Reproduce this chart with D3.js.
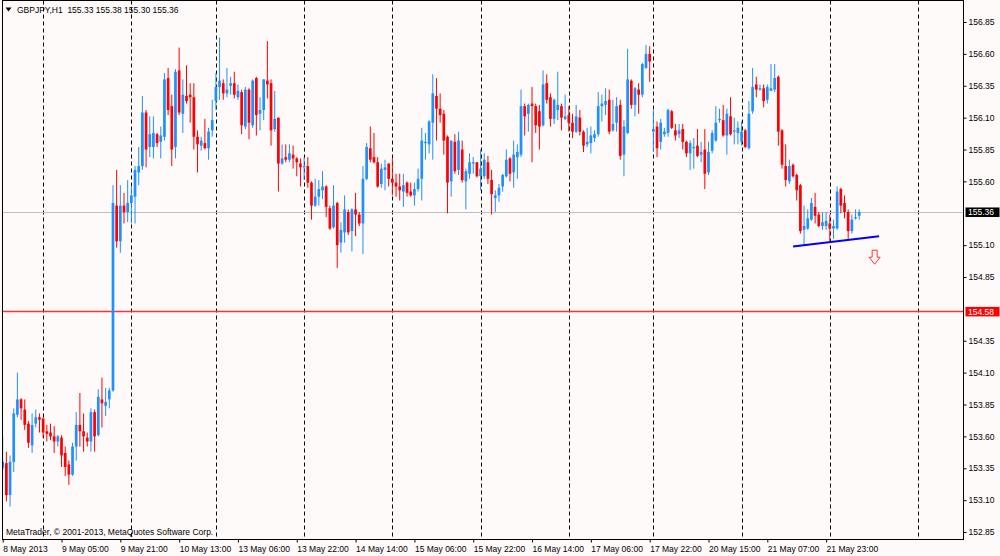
<!DOCTYPE html>
<html><head><meta charset="utf-8">
<script src="https://cdn.jsdelivr.net/npm/d3@7/dist/d3.min.js"></script>
<style>
html,body{margin:0;padding:0;background:#fffafa;}
svg{display:block;}
text{font-family:"Liberation Sans",Arial,sans-serif;}
</style></head>
<body>
<svg id="chart" width="1000" height="556"></svg>
<script>
// ---- data (GBPJPY H1) ----
const open = [
153.35,153.39,153.14,153.40,153.77,153.89,153.81,153.70,153.53,153.70,
153.75,153.74,153.64,153.63,153.60,153.56,153.59,153.47,153.38,153.30,
153.52,153.69,153.64,153.59,153.56,153.79,153.61,153.89,153.84,153.89,
153.96,155.41,155.13,155.41,155.36,155.43,155.48,155.67,155.72,156.14,
155.87,155.87,155.97,155.91,155.95,156.41,156.19,155.87,156.47,156.13,
156.27,156.28,156.26,155.95,155.88,155.90,155.86,156.00,156.23,156.34,
156.37,156.29,156.35,156.37,156.26,156.30,156.03,156.32,156.04,156.41,
156.13,156.16,156.39,156.37,156.01,156.10,155.74,155.79,155.77,155.81,
155.78,155.74,155.71,155.72,155.59,155.41,155.48,155.53,155.56,155.39,
155.24,155.43,155.12,155.20,155.36,155.21,155.38,155.34,155.27,155.62,
155.86,155.79,155.75,155.58,155.69,155.74,155.62,155.59,155.56,155.52,
155.59,155.52,155.49,155.54,155.62,155.90,155.89,156.06,156.27,156.17,
156.13,155.95,155.60,155.91,155.69,155.85,155.60,155.66,155.74,155.75,
155.64,155.64,155.75,155.61,155.47,155.49,155.56,155.64,155.78,155.67,
155.79,155.81,156.19,156.13,156.21,156.19,156.15,156.04,156.37,156.26,
156.09,156.16,156.19,156.09,156.12,156.06,155.99,156.10,155.99,155.89,
155.90,155.94,155.97,156.19,156.20,156.24,156.00,156.06,156.20,155.81,
155.98,156.39,156.20,156.32,156.28,156.49,156.60,155.99,156.03,155.91,
155.97,155.98,156.15,156.00,155.97,156.01,155.91,155.82,155.86,155.88,
155.81,155.85,155.67,155.84,155.92,156.08,156.08,155.96,156.11,155.99,
155.98,155.91,156.00,155.86,156.15,156.36,156.32,156.33,156.24,156.31,
156.32,156.42,156.00,155.72,155.60,155.73,155.65,155.57,155.22,155.23,
155.30,155.40,155.34,155.25,155.25,155.27,155.23,155.23,155.54,155.43,
155.36,155.21,155.31,155.33];
const high = [
153.60,153.48,153.45,153.82,154.10,153.90,153.89,153.72,153.78,153.81,
153.78,153.75,153.69,153.70,153.68,153.61,153.61,153.52,153.41,153.55,
153.79,153.94,153.78,153.63,153.82,153.81,153.97,154.06,153.98,153.98,
155.57,155.69,155.57,155.51,155.61,155.56,155.72,155.87,156.27,156.16,
156.11,156.11,155.98,156.03,156.45,156.49,156.28,156.48,156.65,156.40,
156.51,156.37,156.37,156.00,155.95,156.09,156.02,156.24,156.45,156.73,
156.40,156.49,156.42,156.46,156.36,156.32,156.34,156.33,156.40,156.42,
156.26,156.40,156.70,156.40,156.31,156.10,155.89,155.89,155.89,155.88,
155.79,155.78,155.79,155.79,155.60,155.62,155.61,155.68,155.57,155.41,
155.57,155.44,155.28,155.49,155.38,155.39,155.51,155.36,155.72,155.90,
156.03,155.98,155.79,155.74,155.77,155.74,155.78,155.66,155.66,155.66,
155.60,155.59,155.59,155.70,156.02,155.98,156.08,156.44,156.41,156.29,
156.16,155.96,155.92,155.97,155.99,155.92,155.70,155.82,155.79,155.75,
155.85,155.82,155.80,155.69,155.53,155.58,155.66,155.85,155.79,155.92,
155.89,156.32,156.21,156.21,156.34,156.21,156.20,156.47,156.44,156.29,
156.25,156.46,156.21,156.28,156.19,156.13,156.20,156.16,156.00,156.02,
156.03,156.00,156.30,156.28,156.33,156.32,156.24,156.26,156.24,156.08,
156.64,156.40,156.34,156.37,156.53,156.67,156.66,156.16,156.07,156.09,
156.02,156.17,156.16,156.05,156.05,156.05,155.92,155.92,155.94,156.01,
155.91,156.01,155.91,156.00,156.19,156.17,156.20,156.17,156.26,156.10,
156.07,156.07,156.01,156.23,156.49,156.42,156.36,156.36,156.36,156.52,
156.52,156.43,156.01,155.89,155.77,155.74,155.66,155.58,155.41,155.38,
155.47,155.51,155.36,155.36,155.36,155.34,155.30,155.56,155.55,155.49,
155.38,155.34,155.38,155.38];
const low = [
153.33,153.09,153.05,153.32,153.75,153.73,153.65,153.51,153.47,153.67,
153.63,153.59,153.56,153.57,153.47,153.52,153.36,153.29,153.22,153.29,
153.41,153.52,153.48,153.52,153.48,153.48,153.60,153.67,153.76,153.82,
153.95,155.08,155.04,155.27,155.28,155.27,155.27,155.57,155.69,155.71,
155.79,155.78,155.87,155.78,155.92,156.12,155.72,155.78,156.12,155.98,
156.21,156.06,155.85,155.67,155.84,155.85,155.77,155.95,156.16,156.24,
156.24,156.26,156.28,156.25,156.24,155.97,156.01,155.93,156.02,155.96,
156.00,156.08,156.25,155.88,155.99,155.52,155.73,155.75,155.75,155.70,
155.64,155.56,155.61,155.55,155.30,155.40,155.41,155.46,155.32,155.22,
155.23,154.92,155.04,155.12,155.18,155.05,155.17,155.25,155.03,155.61,
155.75,155.74,155.55,155.55,155.53,155.56,155.49,155.48,155.45,155.40,
155.48,155.48,155.41,155.52,155.45,155.77,155.82,155.77,155.92,156.06,
155.81,155.35,155.48,155.66,155.65,155.59,155.38,155.62,155.66,155.63,
155.53,155.62,155.58,155.34,155.36,155.44,155.52,155.63,155.60,155.55,
155.62,155.79,155.96,155.99,155.75,155.98,155.85,156.03,156.21,156.03,
156.05,156.08,156.00,156.08,155.99,155.94,155.98,155.96,155.83,155.87,
155.82,155.91,155.95,156.07,156.12,155.97,155.99,155.99,155.77,155.64,
155.97,156.17,156.11,156.13,156.26,156.48,156.38,155.83,155.79,155.85,
155.95,155.95,156.01,155.92,155.94,155.85,155.79,155.69,155.70,155.79,
155.75,155.54,155.65,155.82,155.91,156.06,155.95,155.81,155.96,155.89,
155.89,155.88,155.86,155.85,156.13,156.26,156.31,156.18,156.21,156.31,
156.30,155.88,155.70,155.56,155.58,155.63,155.45,155.19,155.10,155.22,
155.29,155.27,155.24,155.22,155.22,155.13,155.15,155.22,155.35,155.31,
155.15,155.19,155.30,155.30];
const close = [
153.40,153.14,153.40,153.78,153.89,153.82,153.69,153.55,153.69,153.75,
153.73,153.63,153.62,153.60,153.56,153.60,153.45,153.36,153.30,153.52,
153.69,153.64,153.60,153.56,153.79,153.60,153.91,153.86,153.87,153.96,
155.43,155.13,155.41,155.36,155.43,155.49,155.69,155.72,156.14,155.85,
155.97,155.98,155.90,155.96,156.40,156.16,155.85,156.46,156.14,156.28,
156.23,156.26,155.95,155.89,155.92,155.86,155.99,156.08,156.34,156.39,
156.29,156.32,156.37,156.28,156.31,156.04,156.32,156.06,156.39,156.12,
156.16,156.40,156.36,156.00,156.09,155.74,155.78,155.77,155.82,155.78,
155.75,155.71,155.72,155.59,155.41,155.48,155.54,155.56,155.40,155.23,
155.41,155.10,155.22,155.38,155.20,155.38,155.34,155.27,155.62,155.87,
155.77,155.75,155.56,155.70,155.71,155.62,155.59,155.56,155.53,155.57,
155.51,155.49,155.54,155.62,155.92,155.91,156.07,156.29,156.17,156.12,
155.92,155.59,155.92,155.68,155.92,155.61,155.68,155.75,155.75,155.64,
155.70,155.77,155.62,155.50,155.49,155.55,155.65,155.77,155.66,155.81,
155.83,156.19,156.11,156.20,156.19,156.04,156.03,156.36,156.24,156.09,
156.24,156.20,156.10,156.11,156.06,155.99,156.11,155.99,155.88,155.91,
155.96,155.97,156.19,156.21,156.23,155.99,156.05,156.19,155.80,156.03,
156.40,156.20,156.33,156.28,156.52,156.60,156.54,156.01,155.86,156.06,
155.99,156.16,156.02,155.96,156.00,155.91,155.82,155.90,155.87,155.80,
155.83,155.66,155.83,155.98,156.06,156.09,155.96,156.13,155.97,156.00,
156.02,155.99,155.87,156.13,156.34,156.32,156.33,156.23,156.34,156.33,
156.41,155.99,155.73,155.61,155.72,155.64,155.53,155.21,155.25,155.31,
155.43,155.33,155.25,155.28,155.29,155.23,155.25,155.52,155.41,155.36,
155.21,155.30,155.32,155.36];

const dayStartBars = [11,35,58,82,106,130,154,177,201,225,249];
const xLabelBars = [0,16,32,48,64,80,96,112,128,144,160,176,192,208,224];
const xLabels = ["8 May 2013","9 May 05:00","9 May 21:00","10 May 13:00","13 May 06:00",
  "13 May 22:00","14 May 14:00","15 May 06:00","15 May 22:00","16 May 14:00",
  "17 May 06:00","17 May 22:00","20 May 15:00","21 May 07:00","21 May 23:00"];
const yTicks = [152.85,153.10,153.35,153.60,153.85,154.10,154.35,154.85,
  155.10,155.60,155.85,156.10,156.35,156.60,156.85];
const bidPrice = 155.36;
const levelPrice = 154.58;
const trendLine = [{bar:215.0, price:155.09},{bar:238.4, price:155.17}];
const arrowPoint = {bar:237.2, price:155.06};
const titleText = "GBPJPY,H1  155.33 155.38 155.30 155.36";
const copyright = "MetaTrader, \u00A9 2001-2013, MetaQuotes Software Corp.";

// ---- layout ----
const svg = d3.select("#chart");
const L = 2.5, R = 963.5, T = 0.5, B = 539.5;
const x = d3.scaleLinear().domain([0, 249]).range([2.7, 2.7 + 249 * 3.676]);
const y = d3.scaleLinear().domain([152.85, 156.85]).range([532, 22]);
const FS = "8.5px";

svg.append("rect").attr("width",1000).attr("height",556).attr("fill","#fffafa");

svg.append("defs").append("clipPath").attr("id","plot")
  .append("rect").attr("x",L).attr("y",T).attr("width",R-L).attr("height",B-T);

const plot = svg.append("g").attr("clip-path","url(#plot)");

// day separators
plot.selectAll("line.day").data(dayStartBars).enter().append("line")
  .attr("x1", d => Math.round(x(d)) + 0.5).attr("x2", d => Math.round(x(d)) + 0.5)
  .attr("y1", T).attr("y2", B)
  .attr("stroke", "#000").attr("stroke-width", 1).attr("stroke-dasharray", "4,3");

// horizontal price lines
plot.append("line").attr("x1",L).attr("x2",R)
  .attr("y1", Math.round(y(bidPrice))+0.5).attr("y2", Math.round(y(bidPrice))+0.5)
  .attr("stroke","#c0c0c0").attr("stroke-width",1);
plot.append("line").attr("x1",L).attr("x2",R)
  .attr("y1", y(levelPrice)).attr("y2", y(levelPrice))
  .attr("stroke","#ff3030").attr("stroke-width",1.4);

// candles
const bars = d3.range(open.length);
const col = i => close[i] >= open[i] ? "#1e90ff" : "#ff0000";
plot.selectAll("line.wick").data(bars).enter().append("line")
  .attr("x1", i => x(i)).attr("x2", i => x(i))
  .attr("y1", i => y(high[i])).attr("y2", i => y(low[i]))
  .attr("stroke", col).attr("stroke-width", 1);
const bw = 2.7;
plot.selectAll("rect.body").data(bars).enter().append("rect")
  .attr("x", i => x(i) - bw/2).attr("width", bw)
  .attr("y", i => y(Math.max(open[i], close[i])))
  .attr("height", i => Math.max(1, Math.abs(y(open[i]) - y(close[i]))))
  .attr("fill", col);

// trend line
plot.append("line")
  .attr("x1", x(trendLine[0].bar)).attr("y1", y(trendLine[0].price))
  .attr("x2", x(trendLine[1].bar)).attr("y2", y(trendLine[1].price))
  .attr("stroke","#0000ff").attr("stroke-width",2);

// down arrow
const ax = x(arrowPoint.bar), ay = y(arrowPoint.price);
plot.append("path")
  .attr("d", `M${ax-2.5},${ay} L${ax+2.5},${ay} L${ax+2.5},${ay+7} L${ax+5.5},${ay+7} L${ax},${ay+14} L${ax-5.5},${ay+7} L${ax-2.5},${ay+7} Z`)
  .attr("fill","#fffafa").attr("stroke","#ff3030").attr("stroke-width",1);

// frame
svg.append("rect").attr("x",L).attr("y",T).attr("width",R-L).attr("height",B-T)
  .attr("fill","none").attr("stroke","#000").attr("stroke-width",1);

// right axis
const ya = svg.append("g").attr("transform",`translate(${R},0)`)
  .call(d3.axisRight(y).tickValues(yTicks).tickSize(3).tickPadding(2).tickFormat(d3.format(".2f")));
ya.select(".domain").remove();
ya.selectAll("line").attr("stroke","#000");
ya.selectAll("text").attr("font-family",'"Liberation Sans",Arial,sans-serif').attr("font-size",FS).attr("fill","#000");

// bottom axis
const xa = svg.append("g").attr("transform",`translate(0,${B})`)
  .call(d3.axisBottom(x).tickValues(xLabelBars).tickSize(3).tickPadding(3).tickFormat((d,i) => xLabels[i]));
xa.select(".domain").remove();
xa.selectAll("line").attr("stroke","#000");
xa.selectAll("text").attr("text-anchor","start").attr("x",0)
  .attr("font-family",'"Liberation Sans",Arial,sans-serif').attr("font-size",FS).attr("fill","#000");

// price boxes
function priceBox(p, bg, txt) {
  const cy = y(p);
  svg.append("rect").attr("x",965.5).attr("y",cy-4.5).attr("width",34).attr("height",9.5).attr("fill",bg);
  svg.append("text").attr("x",968).attr("y",cy+3.2).attr("font-size",FS).attr("fill","#fff").text(txt);
}
priceBox(bidPrice, "#000", d3.format(".2f")(bidPrice));
priceBox(levelPrice, "#ff0000", d3.format(".2f")(levelPrice));

// title & copyright
svg.append("path").attr("d","M5.5,7.5 L11.5,7.5 L8.5,11.5 Z").attr("fill","#000");
svg.append("text").attr("x",17).attr("y",13).attr("font-size",FS).attr("fill","#000")
  .attr("xml:space","preserve").style("white-space","pre").text(titleText);
svg.append("text").attr("x",6).attr("y",535).attr("font-size",FS).attr("fill","#000").text(copyright);
</script>
</body></html>
